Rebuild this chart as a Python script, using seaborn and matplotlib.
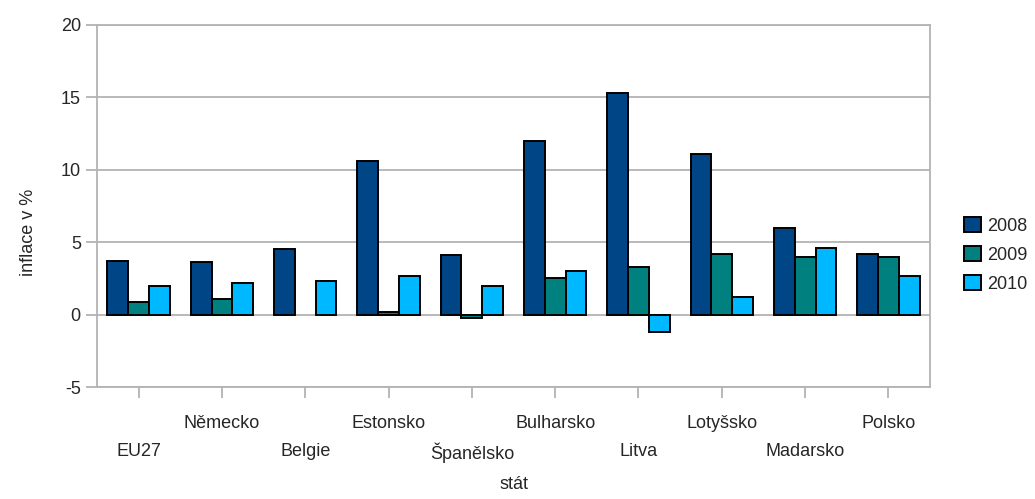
import numpy as np
import pandas as pd
import matplotlib
matplotlib.use('Agg')
import matplotlib.pyplot as plt
from matplotlib.ticker import FixedLocator
import seaborn as sns

# values (inflation in %)
countries = ["EU27", "Německo", "Belgie", "Estonsko", "Španělsko",
             "Bulharsko", "Litva", "Lotyšsko", "Madarsko", "Polsko"]
years = ["2008", "2009", "2010"]
infl_2008 = [3.7, 3.6, 4.5, 10.6, 4.1, 12.0, 15.3, 11.1, 6.0, 4.2]
infl_2009 = [0.9, 1.1, np.nan, 0.2, -0.2, 2.5, 3.3, 4.2, 4.0, 4.0]
infl_2010 = [2.0, 2.2, 2.3, 2.7, 2.0, 3.0, -1.2, 1.2, 4.6, 2.7]
colors = ["#004586", "#00807f", "#00b8ff"]

df = pd.DataFrame({
    "stat": countries * 3,
    "rok": [y for y in years for _ in countries],
    "inflace": infl_2008 + infl_2009 + infl_2010,
})

sns.set_style("white")
plt.rcParams['font.family'] = ['Liberation Sans', 'DejaVu Sans']
plt.rcParams['axes.unicode_minus'] = False
grid_col = "#b3b3b3"
fs = 13

fig = plt.figure(figsize=(10.35, 4.99), dpi=100)
ax = fig.add_axes([0.0937, 0.2244, 0.8049, 0.7256])

sns.barplot(data=df, x="stat", y="inflace", hue="rok", order=countries,
            hue_order=years, palette=colors, saturation=1, width=0.75,
            edgecolor="black", linewidth=1.4, errorbar=None, ax=ax, zorder=3)

ax.set_ylim(-5, 20)
ax.set_yticks([-5, 0, 5, 10, 15, 20])
ax.set_xlim(-0.5, len(countries) - 0.5)
ax.yaxis.grid(True, color=grid_col, linewidth=1.3, zorder=0)
ax.set_axisbelow(True)
for sp in ax.spines.values():
    sp.set_color(grid_col)
    sp.set_linewidth(1.3)

# staggered category labels: even ones on the lower row, odd ones on the upper row
even = list(range(0, len(countries), 2))
odd = list(range(1, len(countries), 2))
ax.xaxis.set_major_locator(FixedLocator(even))
ax.set_xticklabels([countries[i] for i in even])
ax.xaxis.set_minor_locator(FixedLocator(odd))
ax.set_xticklabels([countries[i] for i in odd], minor=True)
ax.tick_params(axis='x', which='major', length=8, width=1.3, color=grid_col,
               direction='out', pad=32, labelsize=fs, bottom=True)
ax.tick_params(axis='x', which='minor', length=8, width=1.3, color=grid_col,
               direction='out', pad=12.2, labelsize=fs, bottom=True)
ax.tick_params(axis='y', length=8, width=1.3, color=grid_col, direction='out',
               labelsize=fs, left=True, pad=3.6)

ax.set_xlabel("stát", fontsize=fs)
ax.xaxis.set_label_coords(0.5, -0.246)
ax.set_ylabel("inflace v %", fontsize=fs)
ax.yaxis.set_label_coords(-0.072, 0.428)

ax.legend(loc='center left', bbox_to_anchor=(1.021, 0.365), frameon=False,
          fontsize=fs, handlelength=0.94, handleheight=0.94, labelspacing=0.62,
          handletextpad=0.33, borderpad=0.4)

fig.savefig("out.png", dpi=100)
